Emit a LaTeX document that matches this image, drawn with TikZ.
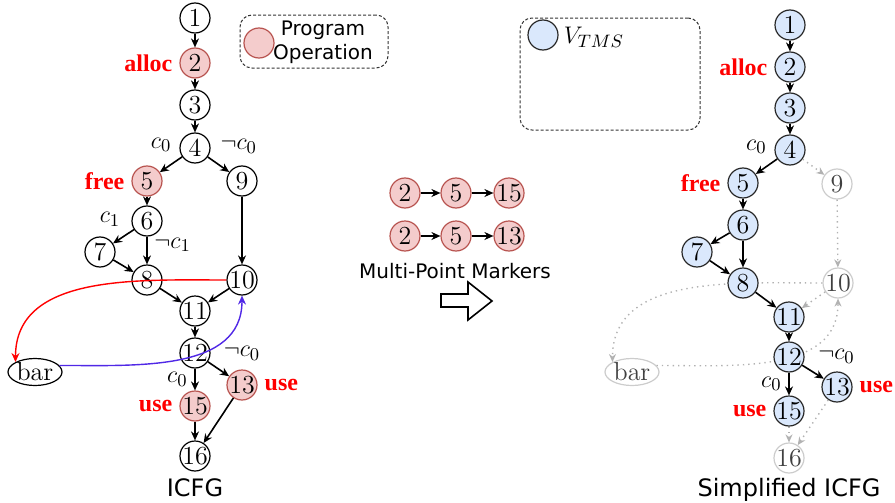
\documentclass[tikz,border=0pt]{standalone}
\usepackage{fontspec}
\newfontfamily\comicfont{DejaVu Sans}
\newfontfamily\opfont{Liberation Serif}
\usetikzlibrary{arrows.meta,shapes.geometric,backgrounds}
\definecolor{opfill}{RGB}{244,204,204}
\definecolor{opdraw}{RGB}{184,84,80}
\definecolor{tmsfill}{RGB}{218,232,252}
\definecolor{tmsdraw}{RGB}{40,40,40}
\definecolor{callblue}{RGB}{80,40,230}

\begin{document}
\begin{tikzpicture}[x = 0.5pt, y = -0.5pt,
  font = \fontsize{13}{15}\selectfont,
  vtx/.style = {circle, draw, line width = 0.6pt, inner sep = -1.5pt, minimum size = 15pt},
  op/.style = {vtx, draw = opdraw, fill = opfill},
  tms/.style = {vtx, draw = tmsdraw, fill = tmsfill},
  faded/.style = {vtx, draw = black!20, text = black!75},
  func/.style = {ellipse, draw, line width = 0.6pt, inner sep = 0pt, minimum width = 27pt, minimum height = 13.5pt},
  flow/.style = {-{Stealth[length=4.5pt,width=4pt]}, line width = 0.8pt},
  skip/.style = {-{Stealth[length=4pt,width=3.5pt]}, dotted, line width = 0.7pt, draw = black!30},
  act/.style = {text = red, font = \opfont\fontsize{12}{14}\selectfont\bfseries},
  legend/.style = {draw = black!80, dash pattern = on 1.5pt off 1pt, line width = 0.5pt, rounded corners = 6pt},
  caption/.style = {font = \comicfont\fontsize{12}{14}\selectfont}]
\useasboundingbox (0,0) rectangle (895,503);

% ICFG
\node[vtx] (l1) at (195,18) {1};
\node[op, label = {[act]left:alloc}] (l2) at (195,63) {2};
\node[vtx] (l3) at (195,105) {3};
\node[vtx] (l4) at (195,148) {4};
\node[op, label = {[act]left:free}] (l5) at (147,181) {5};
\node[vtx] (l9) at (242,181) {9};
\node[vtx] (l6) at (147,221) {6};
\node[vtx] (l7) at (100,252) {7};
\node[vtx] (l8) at (147,280) {8};
\node[vtx] (l10) at (242,280) {10};
\node[vtx] (l11) at (195,311) {11};
\node[vtx] (l12) at (195,353) {12};
\node[op, label = {[act]right:use}] (l13) at (242,385) {13};
\node[op, label = {[act]left:use}] (l15) at (195,406) {15};
\node[vtx] (l16) at (195,456) {16};
\node[func] (lbar) at (35,372) {bar};
\node[caption] (lcap) at (195,488) {ICFG};

\draw [flow] (l1) edge (l2) (l2) edge (l3) (l3) edge (l4);
\draw [flow] (l4) edge node[above left, pos = 0.15] {$c_0$} (l5)
             (l4) edge node[above right, pos = 0.25] {$\neg c_0$} (l9)
             (l5) edge (l6);
\draw [flow] (l6) edge node[above left, pos = 0.3] {$c_1$} (l7)
             (l6) edge node[right, pos = 0.3] {$\neg c_1$} (l8)
             (l7) edge (l8);
\draw [flow] (l9) edge (l10) (l8) edge (l11) (l10) edge (l11);
\draw [flow] (l11) edge (l12)
             (l12) edge node[left] {$c_0$} (l15)
             (l12) edge node[above right, pos = 0.4] {$\neg c_0$} (l13);
\draw [flow] (l15) edge (l16) (l13) edge (l16);
\draw [flow, red, line width = 0.7pt] (l10.west) to[out=180, in=90] (lbar.north west);
\draw [flow, callblue, line width = 0.7pt] (lbar.15) to[out=0, in=-90] (l10.south);

% legend
\node[legend, minimum width = 74pt, minimum height = 26.5pt] (key1) at (314,41.5) {};
\node[op, minimum size = 15pt] (key1dot) at (259,43) {};
\node[align = center, font = \comicfont\fontsize{10}{12}\selectfont] (key1txt) at (323,42) {Program\\Operation};

% markers
\node[op] (m1) at (405,193) {2};
\node[op] (m2) at (456,193) {5};
\node[op] (m3) at (509,193) {15};
\node[op] (m4) at (405,236) {2};
\node[op] (m5) at (456,236) {5};
\node[op] (m6) at (509,236) {13};
\draw [flow] (m1) edge (m2) (m2) edge (m3) (m4) edge (m5) (m5) edge (m6);
\node[font = \comicfont\fontsize{10}{12}\selectfont] (mtxt) at (455,271) {Multi-Point Markers};
\draw [line width = 0.8pt] (441,294) -- (468,294) -- (468,282) -- (492,301) -- (468,320) -- (468,307) -- (441,307) -- cycle;

% Simplified ICFG
\node[legend, minimum width = 90pt, minimum height = 56pt] (key2) at (610,74) {};
\node[tms, minimum size = 15pt] (key2dot) at (543,35) {};
\node (key2txt) at (594,37) {$V_{TMS}$};

\node[tms] (r1) at (790,25) {1};
\node[tms, label = {[act]left:alloc}] (r2) at (790,67) {2};
\node[tms] (r3) at (790,108) {3};
\node[tms] (r4) at (790,150) {4};
\node[tms, label = {[act]left:free}] (r5) at (743,183) {5};
\node[faded] (r9) at (837,184) {9};
\node[tms] (r6) at (743,225) {6};
\node[tms] (r7) at (697,252) {7};
\node[tms] (r8) at (743,283) {8};
\node[faded] (r10) at (838,283) {10};
\node[tms] (r11) at (789,317) {11};
\node[tms] (r12) at (789,357) {12};
\node[tms, label = {[act]right:use}] (r13) at (837,387) {13};
\node[tms, label = {[act]left:use}] (r15) at (789,411) {15};
\node[faded] (r16) at (789,458) {16};
\node[func, draw = black!20, text = black!75] (rbar) at (632,372) {bar};
\node[caption] (rcap) at (789,490) {Simplified ICFG};

\draw [flow] (r1) edge (r2) (r2) edge (r3) (r3) edge (r4);
\draw [flow] (r4) edge node[above left, pos = 0.15] {$c_0$} (r5)
             (r5) edge (r6) (r6) edge (r7);
\draw [flow] (r6) edge (r8) (r7) edge (r8) (r8) edge (r11);
\draw [flow] (r11) edge (r12)
             (r12) edge node[left] {$c_0$} (r15)
             (r12) edge node[above right, pos = 0.4] {$\neg c_0$} (r13);
\draw [skip] (r4) edge (r9) (r9) edge (r10) (r10) edge (r11);
\draw [skip] (r15) edge (r16) (r13) edge (r16);
\begin{scope}[on background layer]
\draw [skip] (r10.west) to[out=180, in=90] (rbar.north west);
\draw [skip] (rbar.15) to[out=0, in=-90] (r10.south);
\end{scope}
\end{tikzpicture}
\end{document}
